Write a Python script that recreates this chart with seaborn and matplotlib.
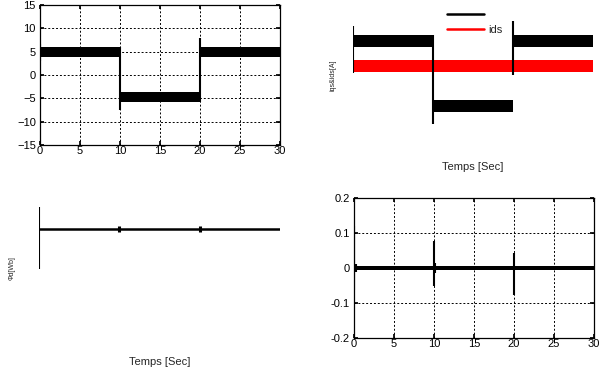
import numpy as np
import matplotlib
matplotlib.use("Agg")
import matplotlib.pyplot as plt
from matplotlib.lines import Line2D
import seaborn as sns

# --- data ---
seg_start = [0, 10, 20]
seg_end = [10, 20, 30]

# top-left: iqs (noise band low/high per segment)
iqs_lo = [3.9, -5.7, 3.9]
iqs_hi = [6.0, -3.6, 6.0]
iqs_spike_t = [0, 10, 20]
iqs_spike_lo = [3.0, -7.4, -5.7]
iqs_spike_hi = [6.7, 6.0, 8.0]

# top-right: iqs & ids (axis hidden)
iqs2_lo = [6.0, -7.9, 6.0]
iqs2_hi = [8.6, -5.4, 8.6]
iqs2_spike_lo = [0.4, -10.6, 0.0]
iqs2_spike_hi = [10.5, 8.6, 11.6]
ids_t = [0, 30]
ids_lo = [0.6, 0.6]
ids_hi = [3.2, 3.2]

# bottom-left: flux (axis hidden)
flux_t = [0, 30]
flux = [1.0, 1.0]
flux_spike_t = [0, 10, 20]
flux_spike_lo = [0.49, 0.96, 0.96]
flux_spike_hi = [1.28, 1.04, 1.04]

# bottom-right: small error signal
err_t = [0, 30]
err_lo = [-0.006, -0.006]
err_hi = [0.006, 0.006]
err_spike_t = [0, 0.3, 10, 10.15, 20]
err_spike_lo = [-0.062, -0.012, -0.052, -0.015, -0.078]
err_spike_hi = [0.119, 0.012, 0.076, 0.015, 0.044]

xticks = [0, 5, 10, 15, 20, 25, 30]

sns.set_theme(style="white")
plt.rcParams['font.family'] = ['Liberation Sans', 'DejaVu Sans']

fig = plt.figure(figsize=(6, 3.7), dpi=100)
W, H = 600, 370


def box(left, top, right, bottom):
    return [left / W, 1 - bottom / H, (right - left) / W, (bottom - top) / H]


def matlab_axes(ax, ylim, yticks):
    ax.set_xlim(0, 30)
    ax.set_ylim(*ylim)
    ax.set_xticks(xticks)
    ax.set_yticks(yticks)
    ax.grid(True, color='black', linestyle=(0, (2, 2)), linewidth=0.7)
    ax.set_axisbelow(True)
    for s in ax.spines.values():
        s.set_color('black')
        s.set_linewidth(0.9)
        s.set_visible(True)
    ax.tick_params(direction='in', length=3, labelsize=8, colors='black',
                   top=True, right=True, bottom=True, left=True, pad=3)
    ax.tick_params(axis='x', pad=1)


def hidden_axes(ax, ylim):
    ax.set_xlim(0, 30)
    ax.set_ylim(*ylim)
    ax.set_xticks([])
    ax.set_yticks([])
    for s in ax.spines.values():
        s.set_visible(False)
    ax.set_facecolor('none')


# --- top-left ---
ax1 = fig.add_axes(box(40, 5, 280, 145))
for a, b, lo, hi in zip(seg_start, seg_end, iqs_lo, iqs_hi):
    ax1.fill_between([a, b], [lo, lo], [hi, hi], color='black', lw=0)
ax1.vlines(iqs_spike_t, iqs_spike_lo, iqs_spike_hi, color='black', lw=1.5)
matlab_axes(ax1, (-15, 15), [-15, -10, -5, 0, 5, 10, 15])

# --- top-right ---
ax2 = fig.add_axes(box(353, 5, 593, 145))
for a, b, lo, hi in zip(seg_start, seg_end, iqs2_lo, iqs2_hi):
    ax2.fill_between([a, b], [lo, lo], [hi, hi], color='black', lw=0)
ax2.fill_between(ids_t, ids_lo, ids_hi, color='red', lw=0)
ax2.vlines(iqs_spike_t, iqs2_spike_lo, iqs2_spike_hi, color='black', lw=1.5)
hidden_axes(ax2, (-15, 15))
ax2.set_xlabel('Temps [Sec]', fontsize=8, labelpad=12)
ax2.set_ylabel('iqs&ids[A]', fontsize=5, labelpad=12)
handles = [Line2D([], [], color='black', lw=1.8), Line2D([], [], color='red', lw=1.8)]
ax2.legend(handles, [' ', 'ids'], loc='upper left', bbox_to_anchor=(447 / W, 1 - 10 / H),
           bbox_transform=fig.transFigure, frameon=False, fontsize=8, borderpad=0,
           handlelength=3.3, handletextpad=0.4, labelspacing=0.45, borderaxespad=0)

# --- bottom-left ---
ax3 = fig.add_axes(box(39, 198, 280, 338))
sns.lineplot(x=flux_t, y=flux, ax=ax3, color='black', lw=1.8)
ax3.vlines(flux_spike_t[:1], flux_spike_lo[:1], flux_spike_hi[:1], color='black', lw=1.5)
ax3.vlines(flux_spike_t[1:], flux_spike_lo[1:], flux_spike_hi[1:], color='black', lw=2.2)
hidden_axes(ax3, (-0.4, 1.4))
ax3.set_xlabel('Temps [Sec]', fontsize=8, labelpad=14)
ax3.set_ylabel('\u03a6d[Wb]', fontsize=5, labelpad=17)

# --- bottom-right ---
ax4 = fig.add_axes(box(354, 198, 594, 338))
ax4.fill_between(err_t, err_lo, err_hi, color='black', lw=0)
ax4.vlines(err_spike_t, err_spike_lo, err_spike_hi, color='black', lw=1.5)
matlab_axes(ax4, (-0.2, 0.2), [-0.2, -0.1, 0, 0.1, 0.2])
ax4.set_yticklabels(['-0.2', '-0.1', '0', '0.1', '0.2'])

fig.savefig('out.png', dpi=100)
